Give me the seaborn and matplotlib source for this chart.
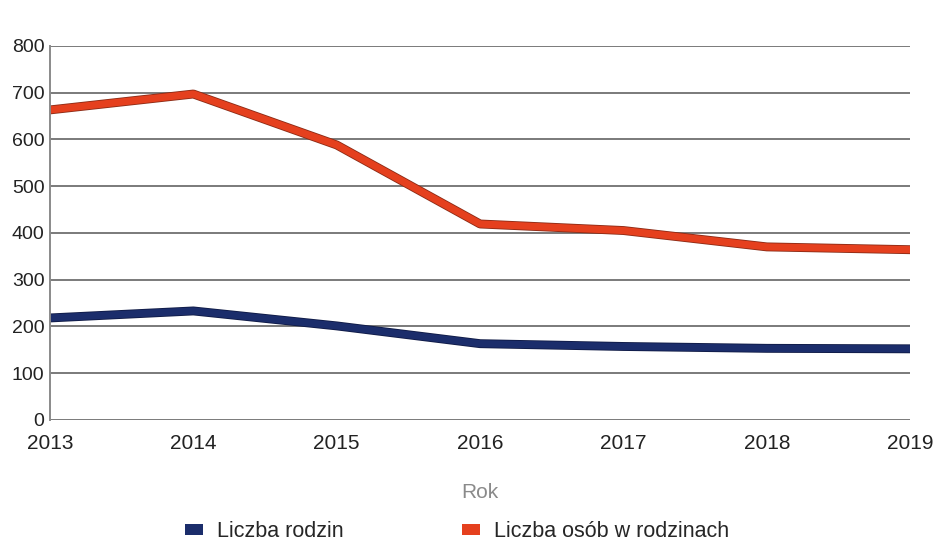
import numpy as np
import pandas as pd
import seaborn as sns
import matplotlib.pyplot as plt
from matplotlib.patches import Patch
import matplotlib.patheffects as pe

lata = [2013, 2014, 2015, 2016, 2017, 2018, 2019]
liczba_rodzin = [218, 233, 201, 163, 157, 153, 152]
liczba_osob = [663, 697, 588, 419, 405, 370, 364]
serie = ["Liczba rodzin", "Liczba osób w rodzinach"]
kolory = ["#1b2d6b", "#e5401e"]

df = pd.DataFrame({
    "Rok": lata * 2,
    "wartosc": liczba_rodzin + liczba_osob,
    "seria": [serie[0]] * len(lata) + [serie[1]] * len(lata),
})

sns.set_style("white")
plt.rcParams['font.family'] = ['Liberation Sans', 'DejaVu Sans']

fig = plt.figure(figsize=(9.34, 5.46), dpi=100)
ax = fig.add_axes([0.0535, 0.231, 0.921, 0.685])

sns.lineplot(data=df, x="Rok", y="wartosc", hue="seria", palette=kolory,
             linewidth=5.2, ax=ax, legend=False, sort=False)
# ciemniejsza obwódka linii jak na skanie
for ln, c in zip(ax.get_lines(), ["#0f1a45", "#8a2a15"]):
    ln.set_path_effects([pe.Stroke(linewidth=6.4, foreground=c), pe.Normal()])
    ln.set_solid_capstyle("butt")

ax.set_xlim(2013, 2019)
ax.set_ylim(0, 800)
ax.set_yticks(np.arange(0, 801, 100))
ax.set_xticks(lata)
ax.yaxis.grid(True, color="#7a7a7a", linewidth=1.4)
ax.set_axisbelow(True)
for s in ["top", "right", "bottom"]:
    ax.spines[s].set_visible(False)
ax.spines["left"].set_color("#8a8a8a")
ax.spines["left"].set_linewidth(1.4)
ax.tick_params(axis="y", labelsize=14, colors="#222222", pad=4, length=0)
ax.tick_params(axis="x", labelsize=15, colors="#222222", pad=10, length=0)
ax.set_ylabel("")
ax.set_xlabel("Rok", fontsize=15, color="#8a8a8a", labelpad=22)

uchwyty = [Patch(facecolor=c, edgecolor="none") for c in kolory]
fig.legend(uchwyty, serie, loc="center left", bbox_to_anchor=(0.198, 0.026),
           ncol=2, frameon=False, fontsize=15.5, handlelength=0.84,
           handleheight=0.37, handletextpad=0.65, columnspacing=5.5,
           borderaxespad=0, borderpad=0)

fig.savefig("out.png", dpi=100)
